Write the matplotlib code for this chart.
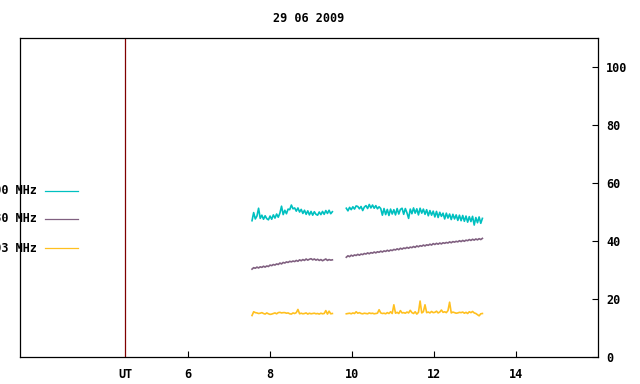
import numpy as np
import matplotlib
matplotlib.use("Agg")
import matplotlib.pyplot as plt
from matplotlib.lines import Line2D

# 时间轴 (UT 小时)
t_a = np.linspace(7.56, 9.52, 50)
t_b = np.linspace(9.86, 13.18, 84)

labels = ["2800 MHz", "1330 MHz", "1003 MHz"]
colors = ["#00c0c0", "#806080", "#ffc020"]

cyan_a = [47.0, 49.8, 47.6, 48.6, 51.3, 47.8, 48.9, 47.5, 48.7, 47.7,
          47.3, 48.6, 47.5, 49.0, 47.9, 49.3, 48.2, 49.6, 52.0, 49.1,
          50.6, 49.4, 51.0, 50.8, 52.4, 51.1, 51.4, 50.3, 51.4, 50.0,
          50.9, 49.5, 50.6, 49.2, 50.4, 49.0, 50.2, 48.9, 50.1, 49.2,
          48.9, 50.0, 49.1, 50.2, 49.2, 50.5, 49.5, 50.6, 49.4, 50.1]
cyan_b = [51.3, 50.4, 51.6, 50.8, 51.8, 51.0, 52.1, 51.9, 51.1, 51.9,
          50.5, 51.7, 52.2, 51.2, 52.6, 51.4, 52.4, 51.3, 52.2, 51.1,
          51.8, 51.2, 48.9, 51.2, 49.1, 50.9, 48.8, 51.0, 49.3, 50.8,
          49.0, 51.2, 49.3, 50.9, 51.3, 49.2, 51.2, 49.7, 47.8, 51.0,
          49.4, 51.4, 49.6, 51.1, 49.0, 51.3, 49.6, 51.0, 49.2, 50.8,
          48.7, 50.5, 48.9, 50.3, 48.3, 50.2, 48.1, 49.9, 48.5, 49.6,
          47.6, 49.6, 47.9, 49.3, 47.4, 49.2, 47.6, 49.0, 47.1, 48.9,
          47.0, 48.8, 46.8, 48.6, 46.5, 48.4, 46.7, 48.5, 45.5, 48.1,
          46.3, 48.3, 46.1, 47.8]

purple_a = [30.3, 30.8, 30.6, 31.0, 30.7, 31.1, 30.9, 31.3, 31.0, 31.4,
            31.2, 31.7, 31.5, 31.9, 31.7, 32.1, 31.9, 32.4, 32.1, 32.6,
            32.4, 32.8, 32.6, 33.0, 32.8, 33.1, 32.9, 33.3, 33.0, 33.5,
            33.2, 33.6, 33.3, 33.8, 33.4, 33.7, 33.9, 33.5, 33.8, 33.4,
            33.7, 33.3, 33.6, 33.2, 33.5, 33.8, 33.3, 33.6, 33.4, 33.5]
purple_b = [34.4, 34.9, 34.6, 35.1, 34.8, 35.2, 35.0, 35.4, 35.1, 35.5,
            35.3, 35.7, 35.5, 35.9, 35.6, 36.0, 35.8, 36.2, 35.9, 36.3,
            36.1, 36.5, 36.2, 36.6, 36.4, 36.8, 36.5, 36.9, 36.7, 37.1,
            36.9, 37.3, 37.0, 37.5, 37.2, 37.6, 37.4, 37.8, 37.5, 37.9,
            37.7, 38.1, 37.8, 38.3, 38.0, 38.4, 38.2, 38.6, 38.3, 38.7,
            38.5, 38.9, 38.6, 39.1, 38.8, 39.2, 38.9, 39.3, 39.0, 39.4,
            39.2, 39.5, 39.3, 39.7, 39.4, 39.8, 39.6, 39.9, 39.7, 40.1,
            39.8, 40.2, 39.9, 40.3, 40.1, 40.5, 40.2, 40.6, 40.3, 40.7,
            40.4, 40.8, 40.5, 40.9]

yellow_a = [14.3, 15.6, 15.3, 15.2, 15.0, 15.1, 15.3, 15.0, 14.8, 15.2,
            14.9, 14.7, 14.8, 15.0, 15.2, 14.9, 15.3, 15.4, 15.2, 15.3,
            15.3, 15.1, 15.2, 14.9, 14.8, 15.2, 15.0, 15.3, 16.4, 14.9,
            15.1, 14.9, 15.0, 15.2, 14.8, 15.1, 14.9, 15.0, 15.1, 14.9,
            15.0, 14.8, 15.1, 14.9, 15.0, 16.0, 14.8, 15.8, 14.9, 15.0]
yellow_b = [14.9, 15.0, 15.1, 14.9, 15.2, 15.0, 15.6, 15.1, 15.3, 15.0,
            14.9, 15.1, 15.0, 14.9, 15.2, 15.0, 15.1, 14.9, 15.0, 15.1,
            16.3, 15.2, 15.0, 15.1, 14.9, 15.3, 15.0, 15.6, 15.0, 18.0,
            15.1, 15.4, 15.0, 16.0, 15.2, 15.3, 15.1, 15.5, 15.2, 16.1,
            15.3, 15.0, 15.6, 14.8, 15.4, 19.3, 15.2, 15.6, 18.0, 15.3,
            15.5, 15.2, 15.7, 15.3, 15.4, 15.8, 15.2, 15.5, 16.2, 15.4,
            15.6, 15.3, 16.0, 18.9, 15.2, 15.5, 15.3, 15.1, 15.2, 15.4,
            15.3, 15.5, 15.1, 15.4, 15.0, 15.6, 15.3, 15.7, 15.2, 15.0,
            14.6, 14.2, 14.9, 15.0]

series = [(cyan_a, cyan_b), (purple_a, purple_b), (yellow_a, yellow_b)]

xticks = [6, 8, 10, 12, 14]
yticks = [0, 20, 40, 60, 80, 100]
ut_pos = 4.47

font = dict(family="DejaVu Sans Mono", weight="bold", size=8.5)

fig = plt.figure(figsize=(6.4, 3.84), dpi=100)
ax = fig.add_axes([20 / 640, 27 / 384, 578 / 640, 319 / 384])

for (seg_a, seg_b), c in zip(series, colors):
    ax.plot(t_a, seg_a, color=c, linewidth=1.2)
    ax.plot(t_b, seg_b, color=c, linewidth=1.2)

ax.axvline(ut_pos, color="#800000", linewidth=0.9)

ax.set_xlim(1.9, 16.0)
ax.set_ylim(0, 110)

ax.set_xticks(xticks)
ax.set_xticklabels([str(v) for v in xticks], **font)
ax.set_yticks(yticks)
ax.set_yticklabels([str(v) for v in yticks], **font)
ax.yaxis.tick_right()
ax.tick_params(axis="x", direction="in", length=4, width=0.8, pad=8, top=False)
ax.tick_params(axis="y", direction="in", length=4, width=0.8, pad=6,
               left=False, right=True)
for s in ax.spines.values():
    s.set_linewidth(0.9)

# UT 标签
ax.text(ut_pos, -0.035, "UT", transform=ax.get_xaxis_transform(),
        ha="center", va="top", **font)

fig.text(309 / 640, 1 - 19 / 384, "29 06 2009", ha="center", va="center", **font)

# 左侧图例 (文字在图边被裁切, 与原图一致)
legend_y = [191, 219, 248]
for lab, c, yp in zip(labels, colors, legend_y):
    fy = 1 - yp / 384
    fig.text(37 / 640, fy, lab, ha="right", va="center", **font)
    fig.add_artist(Line2D([45 / 640, 78 / 640], [fy, fy], color=c, linewidth=0.9))

fig.savefig("out.png", dpi=100)
